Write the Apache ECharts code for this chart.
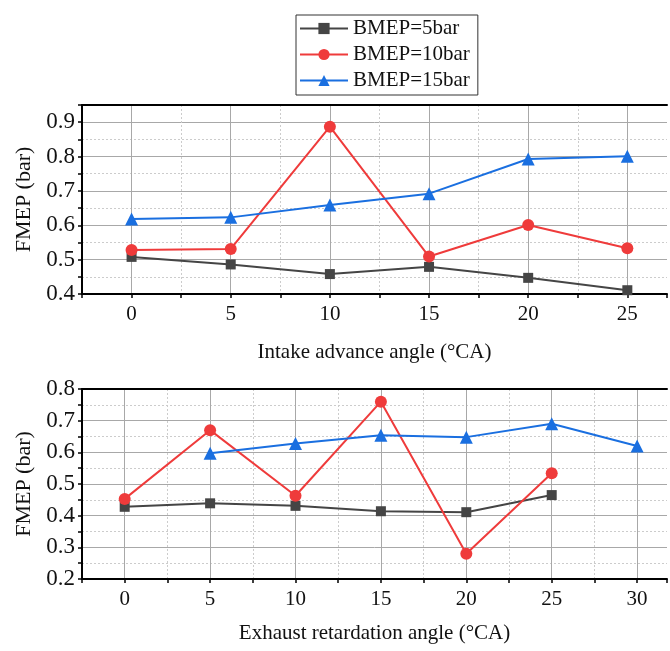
<!DOCTYPE html>
<html><head><meta charset="utf-8">
<script src="https://cdn.jsdelivr.net/npm/echarts@6/dist/echarts.min.js"></script>
<style>html,body{margin:0;padding:0;background:#fff}#c{width:670px;height:651px}</style>
</head><body><div id="c"></div>
<script>
// Data
const seriesNames = ['BMEP=5bar', 'BMEP=10bar', 'BMEP=15bar'];
const topX = [0, 5, 10, 15, 20, 25];
const top5 = [0.508, 0.486, 0.458, 0.479, 0.447, 0.411];
const top10 = [0.528, 0.531, 0.887, 0.509, 0.601, 0.533];
const top15 = [0.618, 0.623, 0.659, 0.692, 0.793, 0.801];
const botX = [0, 5, 10, 15, 20, 25, 30];
const bot5 = [0.428, 0.439, 0.431, 0.414, 0.411, 0.465, null];
const bot10 = [0.453, 0.670, 0.463, 0.760, 0.280, 0.534, null];
const bot15 = [null, 0.597, 0.628, 0.654, 0.648, 0.690, 0.620];
const topXName = 'Intake advance angle (°CA)';
const botXName = 'Exhaust retardation angle (°CA)';
const yName = 'FMEP (bar)';

const FONT = 'Liberation Serif';
const colors = ['#454545', '#ef3b3b', '#1a6fe0'];
const symbols = ['rect', 'circle', 'triangle'];
const symSizes = [10, 12, 13];

function pairs(xs, ys) { return xs.map((x, i) => [x, ys[i]]); }

function xAxes(gridIndex, min, max, name, gap) {
  return [
    { type: 'value', gridIndex, min, max, interval: 2.5, position: 'bottom',
      name, nameLocation: 'middle', nameGap: gap,
      nameTextStyle: { fontFamily: FONT, fontSize: 21, color: '#111' },
      axisLine: { show: true, onZero: false, lineStyle: { color: '#000', width: 2 } },
      axisTick: { show: true, length: 4, lineStyle: { color: '#000', width: 1.5 } },
      axisLabel: { fontFamily: FONT, fontSize: 21, color: '#111', margin: 10,
        formatter: v => (Math.abs(v % 5) < 1e-9 && v >= 0) ? String(v) : '' },
      splitLine: { show: true, showMaxLine: false, lineStyle: { color: ['transparent', '#a8a8a8'], width: 1 } }
    },
    { type: 'value', gridIndex, min, max, interval: 2.5, position: 'top',
      axisLine: { show: true, onZero: false, lineStyle: { color: '#000', width: 2 } },
      axisTick: { show: false }, axisLabel: { show: false },
      splitLine: { show: true, showMaxLine: false, lineStyle: { color: ['#cccccc', 'transparent'], width: 1, type: [2, 2] } }
    }
  ];
}
function yAxes(gridIndex, min, max) {
  return [
    { type: 'value', gridIndex, min, max, interval: 0.05, position: 'left',
      name: yName, nameLocation: 'middle', nameGap: 46, nameRotate: 90,
      nameTextStyle: { fontFamily: FONT, fontSize: 22, color: '#111' },
      axisLine: { show: true, onZero: false, lineStyle: { color: '#000', width: 2 } },
      axisTick: { show: true, length: 4, lineStyle: { color: '#000', width: 1.5 } },
      axisLabel: { fontFamily: FONT, fontSize: 23, color: '#111', margin: 7,
        formatter: v => { const k = Math.round(v * 100); return (k % 10 === 0) ? (k / 100).toFixed(1) : ''; } },
      splitLine: { show: true, lineStyle: { color: ['#a8a8a8', 'transparent'], width: 1 } }
    },
    { type: 'value', gridIndex, min, max, interval: 0.05, position: 'right',
      axisLine: { show: false }, axisTick: { show: false }, axisLabel: { show: false },
      splitLine: { show: true, lineStyle: { color: ['transparent', '#cccccc'], width: 1, type: [2, 2] } }
    }
  ];
}

const xa = [...xAxes(0, -2.5, 27, topXName, 48), ...xAxes(1, -2.5, 31.75, botXName, 44)];
const ya = [...yAxes(0, 0.4, 0.95), ...yAxes(1, 0.2, 0.8)];

const topData = [top5, top10, top15];
const botData = [bot5, bot10, bot15];
const series = [];
seriesNames.forEach((n, i) => {
  const common = { name: n, type: 'line', symbol: symbols[i], symbolSize: symSizes[i],
    itemStyle: { color: colors[i] }, lineStyle: { color: colors[i], width: 2 }, z: 3 + i };
  series.push(Object.assign({}, common, { xAxisIndex: 0, yAxisIndex: 0, data: pairs(topX, topData[i]) }));
  series.push(Object.assign({}, common, { xAxisIndex: 2, yAxisIndex: 2, data: pairs(botX, botData[i]) }));
});

const chart = echarts.init(document.getElementById('c'), null, { renderer: 'canvas' });
chart.setOption({
  animation: false,
  backgroundColor: '#fff',
  legend: {
    data: seriesNames, orient: 'vertical', left: 296, top: 15,
    itemWidth: 48, itemHeight: 14, itemGap: 5,
    padding: [3, 8, 4, 3],
    borderColor: '#333', borderWidth: 1,
    textStyle: { fontFamily: FONT, fontSize: 21, color: '#111' }
  },
  grid: [
    { left: 82, top: 105, width: 587, height: 189 },
    { left: 82, top: 389, width: 587, height: 190 }
  ],
  xAxis: xa,
  yAxis: ya,
  series
});
</script></body></html>
